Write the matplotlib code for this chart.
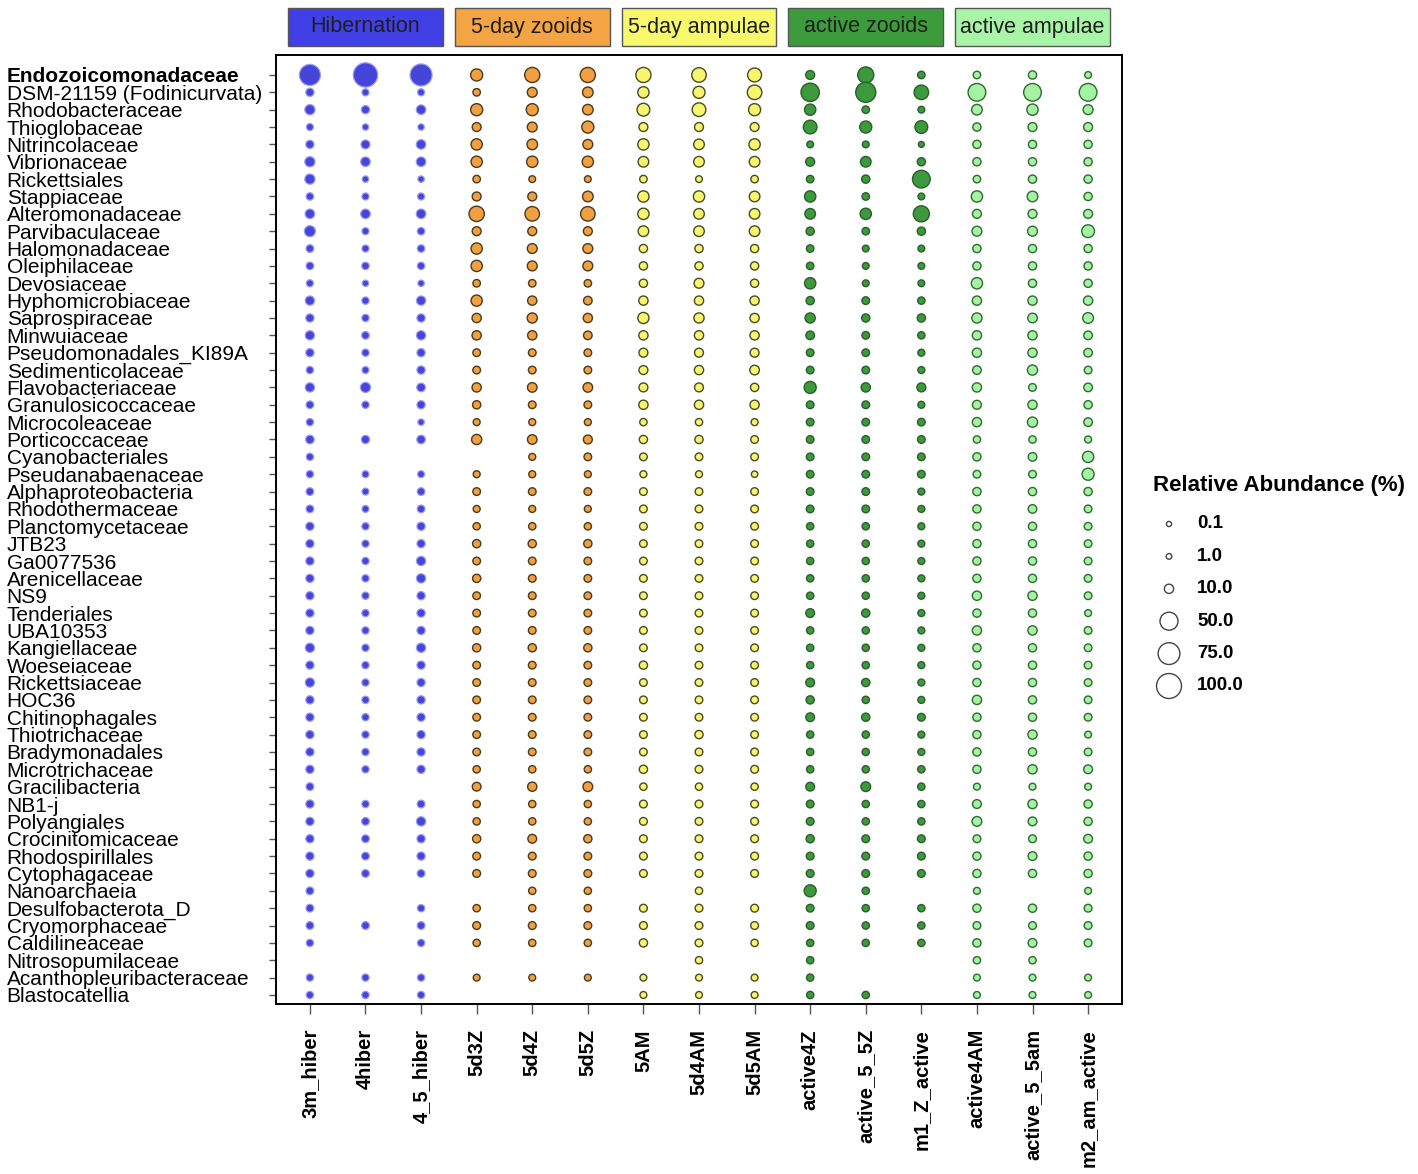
import numpy as np
import matplotlib

matplotlib.use("Agg")
import matplotlib.pyplot as plt
from matplotlib import font_manager
from matplotlib.patches import Rectangle
from matplotlib.transforms import blended_transform_factory

N = np.nan

families = [
    "Endozoicomonadaceae", "DSM-21159 (Fodinicurvata)", "Rhodobacteraceae", "Thioglobaceae",
    "Nitrincolaceae", "Vibrionaceae", "Rickettsiales", "Stappiaceae", "Alteromonadaceae",
    "Parvibaculaceae", "Halomonadaceae", "Oleiphilaceae", "Devosiaceae", "Hyphomicrobiaceae",
    "Saprospiraceae", "Minwuiaceae", "Pseudomonadales_KI89A", "Sedimenticolaceae",
    "Flavobacteriaceae", "Granulosicoccaceae", "Microcoleaceae", "Porticoccaceae",
    "Cyanobacteriales", "Pseudanabaenaceae", "Alphaproteobacteria", "Rhodothermaceae",
    "Planctomycetaceae", "JTB23", "Ga0077536", "Arenicellaceae", "NS9", "Tenderiales",
    "UBA10353", "Kangiellaceae", "Woeseiaceae", "Rickettsiaceae", "HOC36", "Chitinophagales",
    "Thiotrichaceae", "Bradymonadales", "Microtrichaceae", "Gracilibacteria", "NB1-j",
    "Polyangiales", "Crocinitomicaceae", "Rhodospirillales", "Cytophagaceae", "Nanoarchaeia",
    "Desulfobacterota_D", "Cryomorphaceae", "Caldilineaceae", "Nitrosopumilaceae",
    "Acanthopleuribacteraceae", "Blastocatellia",
]

samples = [
    "3m_hiber", "4hiber", "4_5_hiber", "5d3Z", "5d4Z", "5d5Z", "5AM", "5d4AM", "5d5AM",
    "active4Z", "active_5_5Z", "m1_Z_active", "active4AM", "active_5_5am", "m2_am_active",
]

group_names = ["Hibernation", "5-day zooids", "5-day ampulae", "active zooids", "active ampulae"]
group_box_colors = ["#4040E6", "#F4A443", "#F8F86C", "#3C9C3C", "#A8F5A8"]
group_dot_colors = ["#4545DA", "#F0A040", "#F6F66E", "#3C9A3C", "#A4F2A4"]
group_edge_colors = ["#9A9AF2", "#4A3A1E", "#4A4A22", "#2A5E2A", "#2F6A2F"]

# relative abundance (%) per sample, rows in the order of `families`
hiber_3m = [70, 7, 13, 4, 7, 13, 13, 5, 11, 16,
            5.5, 5.5, 4, 10, 7, 10, 7, 4.6, 10, 5.5,
            4.6, 8, 4.6, 4.6, 5.5, 5.5, 7, 7, 7, 7,
            7, 7, 7, 10, 7, 10, 7, 7, 7, 7,
            7, 5.8, 7, 7, 7, 7, 7, 5.8, 5.8, 5.8,
            4.6, N, 4.6, 4.6]
hiber_4 = [95, 4, 7, 2.5, 9, 11, 2.5, 4, 11, 4,
           4, 5, 2.5, 4.6, 4.6, 5.5, 4.6, 3.8, 13, 4.6,
           N, 7, N, 3.8, 3.8, 3.8, 4.6, 4.6, 4.6, 4.6,
           4.6, 4.6, 4.6, 4.6, 4.6, 4.6, 4.6, 4.6, 4.6, 4.6,
           4.6, N, 4.6, 5.8, 5.8, 5.8, 5.8, N, N, 5.8,
           N, N, 4.6, 4.6]
hiber_4_5 = [77, 4, 11, 2.5, 11, 11, 2.5, 4, 11, 5,
             5, 5, 2.5, 10, 7, 10, 7, 7, 8, 7,
             2.5, 8, N, 3.8, 5.5, 5.5, 7, 7, 10, 10,
             7, 7, 7, 10, 7, 7, 7, 7, 7, 7,
             7, N, 5.8, 10, 7, 7, 5.8, N, 4.6, 5.8,
             4.6, N, 4.6, 4.6]
zooid_5d3 = [20, 5, 20, 9, 17, 17, 5, 9, 35, 9,
             17, 17, 5, 16.5, 10, 10, 5.5, 5.5, 10, 7,
             3.8, 13, N, 3.8, 5.5, 3.8, 4.6, 7, 5.5, 7,
             5.5, 5.5, 5.5, 7, 5.5, 5.5, 5.5, 5.5, 5.5, 5.5,
             4.6, 8.5, 4.6, 4.6, 7, 5.8, 5.8, N, 4.6, 5.8,
             4.6, N, 3.5, N]
zooid_5d4 = [34, 12, 20, 12, 14.5, 17, 3.3, 9, 31, 9,
             12, 12, 5, 10, 13, 10, 5.5, 5.5, 11, 5.5,
             3.8, 11, 3.8, 3.8, 5.5, 3.8, 4.6, 7, 5.5, 5.5,
             5.5, 5.5, 5.5, 7, 5.5, 5.5, 5.5, 5.5, 5.5, 5.5,
             4.6, 10, 4.6, 4.6, 8.5, 5.8, 5.8, 4.6, 4.6, 5.8,
             4.6, N, 3.5, N]
zooid_5d5 = [34, 14.5, 14.5, 20, 12, 17, 3.3, 14.5, 31, 9,
             12, 12, 5, 8, 10, 8, 5.5, 5.5, 11, 5.5,
             3.8, 9, 5.5, 3.8, 5.5, 3.8, 4.6, 7, 5.5, 5.5,
             5.5, 5.5, 5.5, 7, 5.5, 5.5, 5.5, 5.5, 5.5, 5.5,
             4.6, 11.5, 4.6, 4.6, 7, 5.8, 5.8, 4.6, 4.6, 5.8,
             4.6, N, 3.5, N]
ampulla_5 = [34, 17, 23, 9, 17, 14.5, 5, 17, 17, 14.5,
             7, 7, 7, 10, 16.5, 10, 9, 9, 9, 10,
             4.6, 7, 5.5, 3.8, 5.5, 5.5, 5.5, 5.5, 5.5, 5.5,
             5.5, 5.5, 5.5, 5.5, 7, 5.5, 5.5, 5.5, 5.5, 5.5,
             7, 4.6, 5.8, 5.8, 5.8, 5.8, 5.8, N, 5.8, 5.8,
             7, N, 3.5, 3.5]
ampulla_5d4 = [31, 20, 27, 9, 14.5, 14.5, 3.3, 17, 14.5, 14.5,
               7, 7, 12, 10, 13, 10, 9, 10, 9, 10,
               4.6, 7, 5.5, 3.8, 5.5, 5.5, 5.5, 5.5, 5.5, 5.5,
               5.5, 5.5, 5.5, 5.5, 5.5, 5.5, 5.5, 5.5, 7, 5.5,
               5.8, 4.6, 5.8, 5.8, 5.8, 5.8, 5.8, 4.6, 5.8, 5.8,
               5.8, 4.6, 3.5, 3.5]
ampulla_5d5 = [28, 31, 20, 9, 17, 14.5, 5, 14.5, 14.5, 14.5,
               7, 7, 7, 10, 10, 10, 9, 11, 7, 10,
               3.8, 5.5, 5.5, 2.5, 5.5, 5.5, 5.5, 5.5, 5.5, 5.5,
               5.5, 5.5, 5.5, 5.5, 5.5, 5.5, 5.5, 5.5, 5.5, 5.5,
               5.8, 4.6, 5.8, 5.8, 5.8, 5.8, 5.8, N, 5.8, 5.8,
               4.6, N, 3.5, 3.5]
zooid_active4 = [9, 52, 17, 27, 3.3, 9, 5, 17, 14.5, 7,
                 5, 5, 17, 7, 13, 8, 5.5, 5.5, 20, 5.5,
                 5.5, 5.5, 5.5, 5.5, 5.5, 5.5, 4.6, 4.6, 4.6, 4.6,
                 4.6, 8.5, 4.6, 4.6, 4.6, 8.5, 7, 8.5, 4.6, 4.6,
                 4.6, 8.5, 5.8, 5.8, 7, 5.8, 5.8, 20, 5.8, 5.8,
                 4.6, 4.6, 4.6, 4.6]
zooid_active55 = [39, 63, 5, 20, 3.3, 14.5, 7, 5, 17, 5,
                  3.3, 3.3, 3.3, 5.5, 7, 5.5, 5.5, 5.5, 10, 5.5,
                  5.5, 5.5, 5.5, 5.5, 5.5, 5.5, 4.6, 4.6, 4.6, 4.6,
                  4.6, 7, 4.6, 4.6, 4.6, 7, 4.6, 7, 4.6, 4.6,
                  4.6, 11.5, 4.6, 4.6, 5.8, 5.8, 5.8, 4.6, 4.6, 4.6,
                  4.6, N, N, 4.6]
zooid_m1 = [5, 31, 3.3, 23, 1.5, 7, 48, 3.3, 39, 7,
            3.3, 3.3, 3.3, 4.6, 7, 4.6, 3.8, 3.8, 9, 3.8,
            5.5, 5.5, 5.5, 5.5, 3.8, 3.8, 3.8, 3.8, 3.8, 3.8,
            3.8, 3.8, 3.8, 3.8, 3.8, 3.8, 3.8, 5.8, 3.8, 3.8,
            4.6, 4.6, 4.6, 4.6, 5.8, 5.8, 5.8, N, 4.6, 4.6,
            4.6, N, N, N]
ampulla_active4 = [5, 48, 14.5, 7, 7, 7, 5, 17, 9, 12,
                   7, 7, 17, 10, 13, 10, 10, 8, 10, 9,
                   10, 4.6, 7, 5.5, 7, 7, 7, 7, 7, 7,
                   10, 7, 10, 7, 7, 7, 10, 7, 7, 7,
                   7, 3.5, 8.5, 11.5, 5.8, 7, 7, 3.5, 7, 5.8,
                   7, 4.6, 3.5, 3.5]
ampulla_active55 = [7, 48, 17, 9, 7, 7, 7, 14.5, 9, 12,
                    7, 7, 7, 10, 11, 10, 10, 13, 5.5, 10,
                    13, 4.6, 8, 5.5, 7, 8, 7, 7, 7, 7,
                    10, 7, 10, 7, 7, 7, 7, 7, 10, 7,
                    10, 3.5, 10, 8.5, 5.8, 8.5, 7, N, 7, 5.8,
                    8.5, 4.6, 3.5, 3.5]
ampulla_m2 = [3.3, 48, 12, 9, 7, 7, 7, 7, 9, 23,
              7, 7, 7, 10, 15, 8, 8, 5.5, 8, 7,
              8, 3.8, 17, 20, 7, 5.5, 5.5, 5.5, 5.5, 5.5,
              5.5, 3.5, 5.5, 5.5, 5.5, 5.5, 5.5, 5.5, 3.5, 5.5,
              8.5, 3.5, 7, 7, 8.5, 7, 7, 3.5, 5.8, 5.8,
              5.8, N, 3.5, 3.5]

columns = [hiber_3m, hiber_4, hiber_4_5, zooid_5d3, zooid_5d4, zooid_5d5,
           ampulla_5, ampulla_5d4, ampulla_5d5, zooid_active4, zooid_active55, zooid_m1,
           ampulla_active4, ampulla_active55, ampulla_m2]

legend_values = [0.1, 1.0, 10.0, 50.0, 75.0, 100.0]
legend_labels = ["0.1", "1.0", "10.0", "50.0", "75.0", "100.0"]

DPI = 100


def marker_area(values):
    """Area-proportional size scale (like ggplot scale_size), in points^2."""
    radius_px = np.sqrt(6.5 + 1.49 * np.asarray(values, dtype=float))
    diameter_pt = 2 * radius_px * 72 / DPI
    return diameter_pt ** 2


installed = {f.name for f in font_manager.fontManager.ttflist}
base_font = "Liberation Sans" if "Liberation Sans" in installed else "DejaVu Sans"
plt.rcParams["font.family"] = [base_font, "DejaVu Sans"]

fig = plt.figure(figsize=(14.18, 11.74), dpi=DPI)
W, H = 1418, 1174
ax_left, ax_right, ax_top, ax_bottom = 276, 1122, 55, 1004
ax = fig.add_axes([ax_left / W, 1 - ax_bottom / H,
                   (ax_right - ax_left) / W, (ax_bottom - ax_top) / H])

n_rows = len(families)
y_pos = np.arange(n_rows)
for col, values in enumerate(columns):
    g = col // 3
    vals = np.asarray(values, dtype=float)
    mask = ~np.isnan(vals)
    lw = 0.9 if g == 0 else 1.0
    ax.scatter(np.full(mask.sum(), col), y_pos[mask], s=marker_area(vals[mask]),
               c=group_dot_colors[g], edgecolors=group_edge_colors[g], linewidths=lw,
               zorder=3, clip_on=False)

ax.set_xlim(-0.61, len(samples) - 1 + 0.61)
ax.set_ylim(n_rows - 1 + 0.52, -1.15)

ax.set_yticks(y_pos)
ax.set_yticklabels(families, fontsize=15, ha="left")
ax.get_yticklabels()[0].set_fontweight("bold")
ax.tick_params(axis="y", length=5, width=1, color="#555555", pad=189)

ax.set_xticks(np.arange(len(samples)))
ax.set_xticklabels(samples, rotation=90, fontsize=14.5, fontweight="bold", va="top")
ax.tick_params(axis="x", length=7, width=1, color="#555555", pad=11)

for spine in ax.spines.values():
    spine.set_linewidth(1.4)
    spine.set_color("black")

# group header boxes above the panel
trans = blended_transform_factory(ax.transData, ax.transAxes)
box_y0 = (ax_bottom - 46) / (ax_bottom - ax_top)
box_y1 = (ax_bottom - 8) / (ax_bottom - ax_top)
for g, name in enumerate(group_names):
    center = g * 3 + 1
    ax.add_patch(Rectangle((center - 1.39, box_y0), 2.78, box_y1 - box_y0, transform=trans,
                           facecolor=group_box_colors[g], edgecolor="#555555", linewidth=1.0,
                           clip_on=False, zorder=4))
    ax.text(center, (box_y0 + box_y1) / 2, name, transform=trans, ha="center", va="center",
            fontsize=15.5, color="#1e1e1e", zorder=5)

# size legend
leg = fig.add_axes([0, 0, 1, 1])
leg.set_xlim(0, W)
leg.set_ylim(H, 0)
leg.axis("off")
leg.text(1153, 486, "Relative Abundance (%)", fontsize=16, fontweight="bold",
         ha="left", va="center")
leg_y = 524 + 32.4 * np.arange(len(legend_values))
leg.scatter(np.full(len(legend_values), 1169), leg_y, s=marker_area(legend_values),
            facecolors="white", edgecolors="#444444", linewidths=1.0)
for y, lab in zip(leg_y, legend_labels):
    leg.text(1197, y, lab, fontsize=13.5, fontweight="bold", ha="left", va="center")

fig.savefig("out.png", dpi=DPI)
